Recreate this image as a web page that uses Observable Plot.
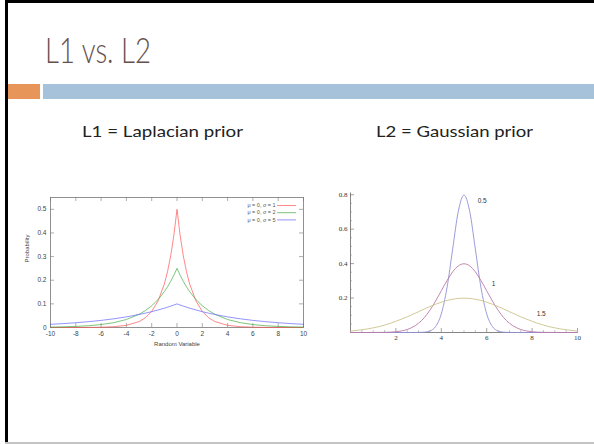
<!DOCTYPE html>
<html><head><meta charset="utf-8">
<script src="https://cdn.jsdelivr.net/npm/d3@7"></script>
<script src="https://cdn.jsdelivr.net/npm/@observablehq/plot@0.6"></script>
<style>
body{margin:0;background:#fff;}
#slide{position:relative;width:594px;height:444px;overflow:hidden;background:#fff;}
.abs{position:absolute;}
</style></head><body>
<div id="slide">
  <div class="abs" style="left:5px;top:0;width:3px;height:443px;background:#000"></div>
  <div class="abs" style="left:5px;top:0;width:589px;height:3px;background:#000"></div>
  <div class="abs" style="left:5px;top:442px;width:589px;height:2px;background:#c4c4c4"></div>
  <div class="abs" style="left:8px;top:84px;width:32px;height:15px;background:#E8955A"></div>
  <div class="abs" style="left:43px;top:84px;width:551px;height:15px;background:#A5C2DA"></div>
  <svg class="abs" style="left:0;top:0" width="594" height="150">
    <text x="45" y="63" font-family="Lato, 'Noto Sans', sans-serif" font-weight="300" font-size="35" fill="#65504a" textLength="106" lengthAdjust="spacingAndGlyphs">L1 vs. L2</text>
    <text x="82" y="137" font-family="Lato, 'Noto Sans', sans-serif" font-weight="400" font-size="15" fill="#222" textLength="161" lengthAdjust="spacingAndGlyphs">L1 = Laplacian prior</text>
    <text x="376" y="137" font-family="Lato, 'Noto Sans', sans-serif" font-weight="400" font-size="15" fill="#222" textLength="157" lengthAdjust="spacingAndGlyphs">L2 = Gaussian prior</text>
  </svg>
  <div id="lap" class="abs" style="left:0;top:185px"></div>
  <div id="gau" class="abs" style="left:320px;top:180px"></div>
</div>
<script>
// ---------- Laplacian chart data ----------
const lapX = [-10,-9,-8,-7,-6,-5,-4,-3,-2.5,-2,-1.5,-1,-0.75,-0.5,-0.25,0,0.25,0.5,0.75,1,1.5,2,2.5,3,4,5,6,7,8,9,10];
const lapB1 = [0.00002,0.00006,0.00017,0.00046,0.0012,0.0034,0.0092,0.0249,0.041,0.068,0.112,0.184,0.236,0.303,0.389,0.5,0.389,0.303,0.236,0.184,0.112,0.068,0.041,0.0249,0.0092,0.0034,0.0012,0.00046,0.00017,0.00006,0.00002];
const lapB2 = [0.0017,0.0028,0.0046,0.0075,0.0124,0.0205,0.0338,0.0558,0.0716,0.092,0.118,0.152,0.172,0.195,0.221,0.25,0.221,0.195,0.172,0.152,0.118,0.092,0.0716,0.0558,0.0338,0.0205,0.0124,0.0075,0.0046,0.0028,0.0017];
const lapB5 = [0.0135,0.0165,0.0202,0.0247,0.0301,0.0368,0.0449,0.0549,0.0607,0.067,0.0741,0.0819,0.0861,0.0905,0.0951,0.1,0.0951,0.0905,0.0861,0.0819,0.0741,0.067,0.0607,0.0549,0.0449,0.0368,0.0301,0.0247,0.0202,0.0165,0.0135];
const lapSeries = ["μ = 0, σ = 1","μ = 0, σ = 2","μ = 0, σ = 5"];
const lapColors = ["#ff5555","#44aa44","#6666ff"];
const lapXTicks = [-10,-8,-6,-4,-2,0,2,4,6,8,10];
const lapYTicks = [0,0.1,0.2,0.3,0.4,0.5];

// ---------- Gaussian chart data ----------
const gauX = [0,0.25,0.5,0.75,1,1.25,1.5,1.75,2,2.25,2.5,2.75,3,3.25,3.5,3.75,4,4.25,4.5,4.75,5,5.25,5.5,5.75,6,6.25,6.5,6.75,7,7.25,7.5,7.75,8,8.25,8.5,8.75,9,9.25,9.5,9.75,10];
const gauS05 = [0,0,0,0,0,0,0,0,0,0,0,0,0.0003,0.0017,0.0089,0.035,0.108,0.259,0.484,0.704,0.798,0.704,0.484,0.259,0.108,0.035,0.0089,0.0017,0.0003,0,0,0,0,0,0,0,0,0,0,0,0];
const gauS1 = [0,0,0,0,0.0001,0.0004,0.0009,0.002,0.0044,0.0091,0.0175,0.032,0.054,0.086,0.130,0.183,0.242,0.301,0.352,0.387,0.399,0.387,0.352,0.301,0.242,0.183,0.130,0.086,0.054,0.032,0.0175,0.0091,0.0044,0.002,0.0009,0.0004,0.0001,0,0,0,0];
const gauS15 = [0.0088,0.0119,0.0159,0.021,0.027,0.034,0.043,0.053,0.065,0.078,0.091,0.106,0.121,0.136,0.151,0.164,0.176,0.186,0.193,0.198,0.199,0.198,0.193,0.186,0.176,0.164,0.151,0.136,0.121,0.106,0.091,0.078,0.065,0.053,0.043,0.034,0.027,0.021,0.0159,0.0119,0.0088];
const gauLabels = ["0.5","1","1.5"];
const gauLabelX = [5.8,6.3,8.4];
const gauLabelY = [0.765,0.285,0.11];
const gauColors = ["#9090d8","#b97aa8","#cbc28c"];
const gauXTicks = [2,4,6,8,10];
const gauYTicks = [0.2,0.4,0.6,0.8];

// ---------- Laplacian plot ----------
const lapRows = [];
[lapB1, lapB2, lapB5].forEach((vals, s) => vals.forEach((v, i) => lapRows.push({x: lapX[i], y: v, s: lapSeries[s]})));
const lapYMax = 0.55;
const lapH = 130, lapW = 253; // frame size in px
const tx = 4 * 20 / lapW, ty = 4 * lapYMax / lapH;
const legRows = lapSeries.map((s, i) => ({s, i, y: lapYMax - (8 + 7.2 * i) * lapYMax / lapH}));
const lapPlot = Plot.plot({
  width: 315, height: 170,
  marginLeft: 50, marginRight: 12, marginTop: 12, marginBottom: 28,
  style: {fontSize: "6.5px", fontFamily: "'Liberation Sans', Arial, sans-serif", color: "#444", background: "transparent"},
  x: {domain: [-10, 10], ticks: lapXTicks, tickSize: 0, tickPadding: 4, tickFormat: d => String(d), label: null},
  y: {domain: [0, lapYMax], ticks: lapYTicks, tickSize: 0, tickPadding: 4, tickFormat: d => String(d), label: null},
  color: {domain: lapSeries, range: lapColors},
  marks: [
    Plot.frame({stroke: "#777", strokeWidth: 0.8}),
    Plot.ruleX(lapXTicks, {x: d => d, y1: 0, y2: ty, stroke: "#777", strokeWidth: 0.6}),
    Plot.ruleX(lapXTicks, {x: d => d, y1: lapYMax, y2: lapYMax - ty, stroke: "#777", strokeWidth: 0.6}),
    Plot.ruleY(lapYTicks, {y: d => d, x1: -10, x2: -10 + tx, stroke: "#777", strokeWidth: 0.6}),
    Plot.ruleY(lapYTicks, {y: d => d, x1: 10, x2: 10 - tx, stroke: "#777", strokeWidth: 0.6}),
    Plot.line(lapRows, {x: "x", y: "y", stroke: "s", z: "s", strokeWidth: 0.7}),
    Plot.text(legRows, {x: 7.8, y: "y", text: "s", textAnchor: "end", fontSize: 5.5, fill: "#555"}),
    Plot.ruleY(legRows, {y: "y", x1: 7.95, x2: 9.45, stroke: "s", strokeWidth: 0.7}),
    Plot.text(["Probability"], {frameAnchor: "left", dx: -23, rotate: -90, text: d => d, fontSize: 6, fill: "#444"}),
    Plot.text(["Random Variable"], {frameAnchor: "bottom", dy: 18, text: d => d, fontSize: 6, fill: "#444"})
  ]
});
document.getElementById("lap").appendChild(lapPlot);

// ---------- Gaussian plot ----------
const gauSeries = gauLabels;
const gauRows = [];
[gauS05, gauS1, gauS15].forEach((vals, s) => vals.forEach((v, i) => gauRows.push({x: gauX[i], y: v, s: gauSeries[s]})));
const gYMax = 0.81;
const gH = 139.5, gW = 227;
const gMajY = 4 * gYMax / gH, gMinY = 2 * gYMax / gH;
const gMajX = 4 * 10 / gW, gMinX = 2 * 10 / gW;
const gMinorX = d3.range(0.5, 10.01, 0.5).filter(v => Math.abs(v / 2 - Math.round(v / 2)) > 1e-6);
const gMinorY = d3.range(0.05, 0.81, 0.05).filter(v => Math.abs(v / 0.2 - Math.round(v / 0.2)) > 1e-6);
const gauPlot = Plot.plot({
  width: 270, height: 170,
  marginLeft: 30, marginRight: 13, marginTop: 12.5, marginBottom: 18,
  style: {fontSize: "7px", fontFamily: "'Liberation Serif', 'DejaVu Serif', serif", color: "#333", background: "transparent"},
  x: {domain: [0, 10], ticks: gauXTicks, tickSize: 0, tickPadding: 3, tickFormat: d => String(d), label: null},
  y: {domain: [0, gYMax], ticks: gauYTicks, tickSize: 0, tickPadding: 3, tickFormat: d => String(d), label: null},
  color: {domain: gauSeries, range: gauColors},
  marks: [
    Plot.ruleY([0], {stroke: "#666", strokeWidth: 0.8}),
    Plot.ruleX([0], {stroke: "#666", strokeWidth: 0.8}),
    Plot.ruleX(gauXTicks, {x: d => d, y1: 0, y2: gMajY, stroke: "#666", strokeWidth: 0.6}),
    Plot.ruleX(gMinorX, {x: d => d, y1: 0, y2: gMinY, stroke: "#888", strokeWidth: 0.5}),
    Plot.ruleY(gauYTicks, {y: d => d, x1: 0, x2: gMajX, stroke: "#666", strokeWidth: 0.6}),
    Plot.ruleY(gMinorY, {y: d => d, x1: 0, x2: gMinX, stroke: "#888", strokeWidth: 0.5}),
    Plot.line(gauRows, {x: "x", y: "y", stroke: "s", z: "s", strokeWidth: 0.9, curve: "monotone-x"}),
    Plot.text(gauLabels, {x: (d, i) => gauLabelX[i], y: (d, i) => gauLabelY[i], text: d => d, fontFamily: "'Liberation Sans', Arial, sans-serif", fontSize: 6.5, fill: "#333"})
  ]
});
document.getElementById("gau").appendChild(gauPlot);
</script>
</body></html>
